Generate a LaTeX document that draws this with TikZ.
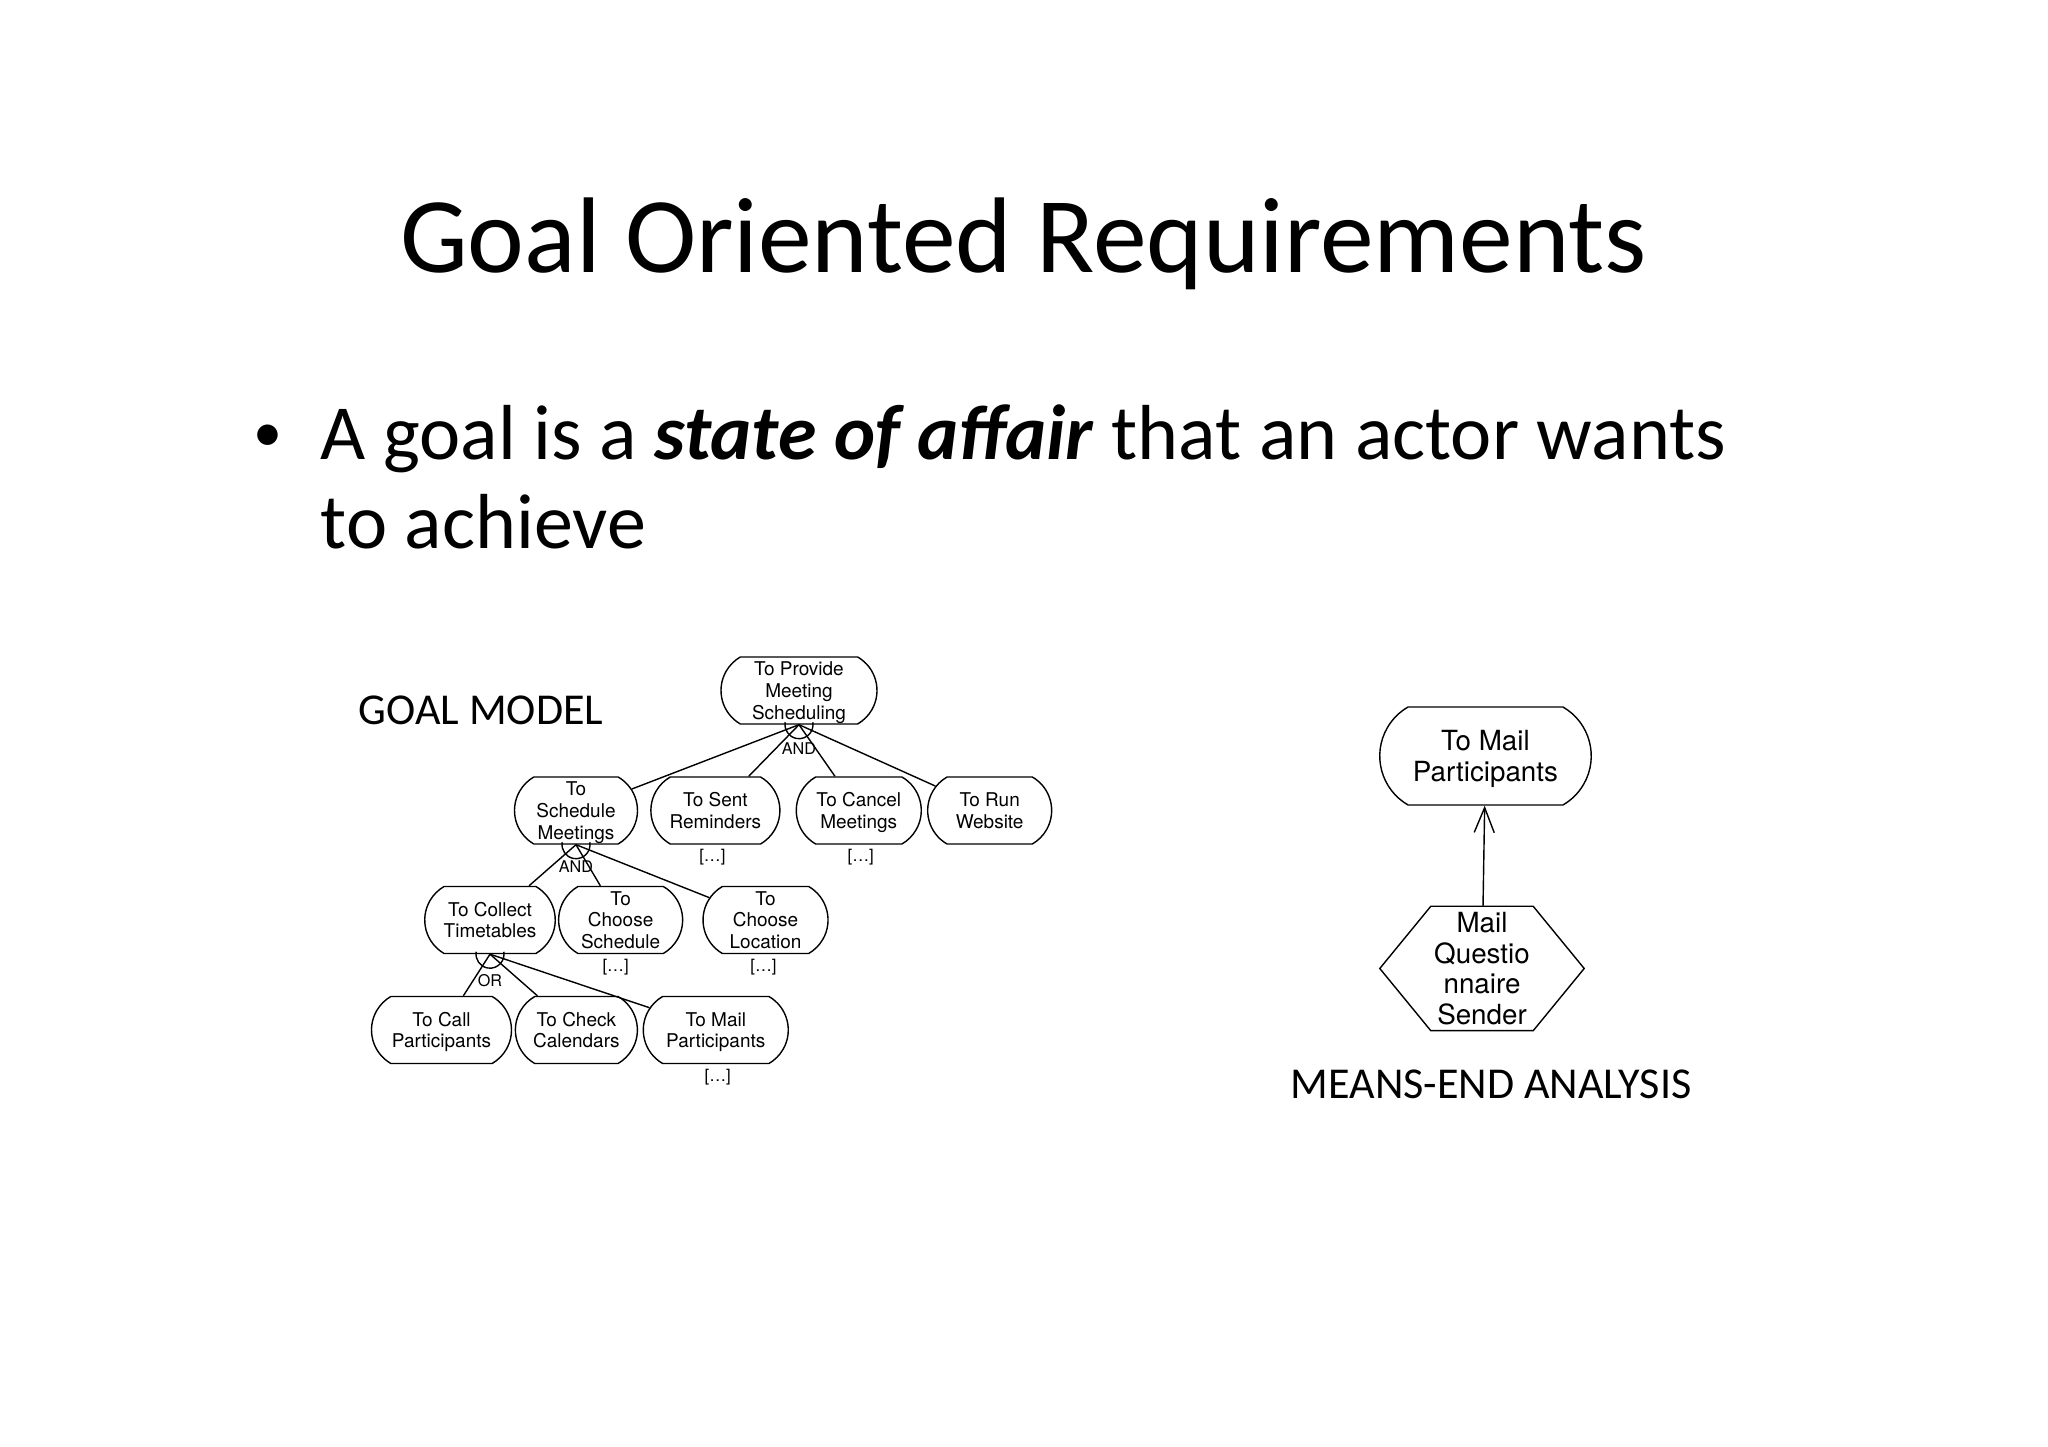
\documentclass[tikz,border=0pt]{standalone}
\usepackage{fontspec}
\setmainfont{TeX Gyre Heros}
\newfontfamily\slidefont{Carlito}
\usepackage{tikz}
\usetikzlibrary{arrows.meta}
\usetikzlibrary{positioning}
\usetikzlibrary{shapes.misc}

\begin{document}
\begin{tikzpicture}[-,auto,thin,
				goal/.style={rounded rectangle,rounded rectangle arc length=120,draw,fill=white,
					align=center,inner sep=0.5pt,minimum height=0.67cm,text depth=-1.2pt,
					font=\fontsize{5.4}{6.2}\selectfont},
				big goal/.style={goal,minimum height=0.98cm,text depth=-0.5pt,font=\fontsize{7.9}{8.7}\selectfont},
				task/.style={inner sep=0pt,minimum width=1.01cm,minimum height=1.23cm,
					align=center,font=\fontsize{7.9}{8.7}\selectfont},
				decomp/.style={inner sep=0pt,font=\fontsize{4.6}{5}\selectfont},
				more/.style={inner sep=0pt,font=\fontsize{4.8}{5}\selectfont},
				slide/.style={inner sep=0pt,anchor=base west,font=\slidefont\fontsize{22.2}{25.2}\selectfont},
				caption/.style={inner sep=0pt,anchor=base west,font=\slidefont\fontsize{12.55}{15}\selectfont}]
				
				\fill[white] (0,0) rectangle (20.48,-14.47);
				\useasboundingbox (0,0) rectangle (20.48,-14.47);
				
				% slide text
				\node[inner sep=0pt,anchor=base,font=\slidefont\fontsize{30.6}{36}\selectfont] (T) at (10.235,-2.73) {Goal Oriented Requirements};
				\node[slide,font=\slidefont\fontsize{16.5}{20}\selectfont] (P) at (2.53,-4.52) {\textbullet};
				\node[slide] (L1) at (3.20,-4.60) {A goal is a \textbf{\textit{state of affair}} that an actor wants};
				\node[slide] (L2) at (3.20,-5.49) {to achieve};
				\node[caption] (GM) at (3.58,-7.25) {GOAL MODEL};
				\node[caption] (ME) at (12.90,-10.99) {MEANS-END ANALYSIS};
				
				% goal model
				\node[goal,minimum width=1.595cm] (A) at (7.99,-6.905) {To Provide\\Meeting\\Scheduling};
				\node[goal,minimum width=1.265cm] (B) at (5.76,-8.105) {To\\Schedule\\Meetings};
				\node[goal,minimum width=1.325cm] (C) [right=0.12cm of B] {To Sent\\Reminders};
				\node[goal,minimum width=1.285cm] (D) [right=0.15cm of C] {To Cancel\\Meetings};
				\node[goal,minimum width=1.275cm] (E) [right=0.05cm of D] {To Run\\Website};
				\node[goal,minimum width=1.34cm] (F) at (4.90,-9.20) {To Collect\\Timetables};
				\node[goal,minimum width=1.275cm] (G) [right=0.02cm of F] {To\\Choose\\Schedule};
				\node[goal,minimum width=1.285cm] (H) [right=0.19cm of G] {To\\Choose\\Location};
				\node[goal,minimum width=1.435cm] (I) at (4.415,-10.30) {To Call\\Participants};
				\node[goal,minimum width=1.255cm] (J) [right=0.025cm of I] {To Check\\Calendars};
				\node[goal,minimum width=1.485cm] (K) [right=0.045cm of J] {To Mail\\Participants};
				
				\path
				(A.south) edge (B)
				(A.south) edge (C)
				(A.south) edge (D)
				(A.south) edge (E)
				(B.south) edge (F)
				(B.south) edge (G)
				(B.south) edge (H)
				(F.south) edge (I)
				(F.south) edge (J)
				(F.south) edge (K);
				
				\draw ([shift={(170:0.14)}]A.south) arc[start angle=170,end angle=370,radius=0.14];
				\draw ([shift={(170:0.14)}]B.south) arc[start angle=170,end angle=370,radius=0.14];
				\draw ([shift={(170:0.14)}]F.south) arc[start angle=170,end angle=370,radius=0.14];
				\node[decomp] (A1) at ([yshift=-0.24cm]A.south) {AND};
				\node[decomp] (B1) at ([yshift=-0.22cm]B.south) {AND};
				\node[decomp] (F1) at ([yshift=-0.26cm]F.south) {OR};
				
				\node[more] (C2) [below=0.04cm of C,xshift=-0.03cm] {[\ldots]};
				\node[more] (D2) [below=0.04cm of D,xshift=0.02cm] {[\ldots]};
				\node[more] (G2) [below=0.04cm of G,xshift=-0.05cm] {[\ldots]};
				\node[more] (H2) [below=0.04cm of H,xshift=-0.02cm] {[\ldots]};
				\node[more] (K2) [below=0.04cm of K,xshift=0.02cm] {[\ldots]};
				
				% means-end
				\node[big goal,minimum width=2.15cm] (M) at (14.855,-7.56) {To Mail\\Participants};
				\node[task] (S) at (14.82,-9.685) {Mail\\Questio\\nnaire\\Sender};
				\draw (S.north west) -- (S.north east) -- ([xshift=0.51cm]S.east) -- (S.south east)
				-- (S.south west) -- ([xshift=-0.51cm]S.west) -- cycle;
				\path[-{Straight Barb[length=2.5mm,width=2mm]}] (S) edge (M);
			\end{tikzpicture}
\end{document}
